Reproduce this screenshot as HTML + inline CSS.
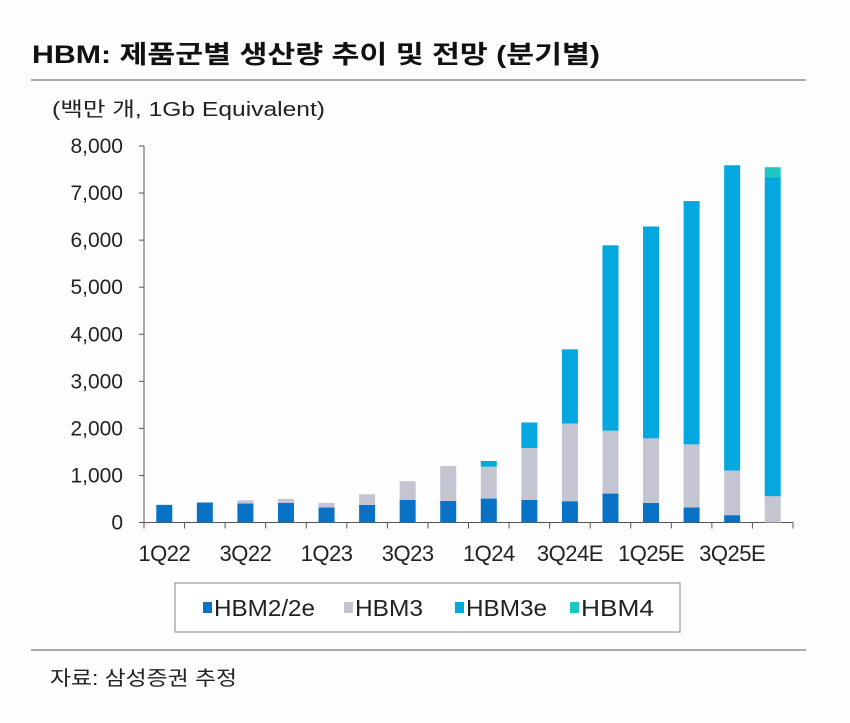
<!DOCTYPE html>
<html><head><meta charset="utf-8"><style>
body{margin:0;background:#fdfdfd;width:850px;height:718px;overflow:hidden;font-family:"Liberation Sans","Noto Sans CJK KR",sans-serif;color:#222}
svg text{font-family:"Liberation Sans","Noto Sans CJK KR",sans-serif}
</style></head><body>
<svg width="850" height="718">
<text x="32" y="63" font-size="25" font-weight="bold" fill="#111" textLength="568" lengthAdjust="spacingAndGlyphs">HBM: 제품군별 생산량 추이 및 전망 (분기별)</text>
<line x1="31" y1="80" x2="806" y2="80" stroke="#aaa" stroke-width="2"/>
<text x="52" y="116" font-size="20" fill="#222" textLength="273" lengthAdjust="spacingAndGlyphs">(백만 개, 1Gb Equivalent)</text>
<g id="axes"></g><g id="bars"></g>
<rect x="175" y="583" width="505" height="49" fill="#fff" stroke="#888" stroke-width="1"/>
<g id="legend"></g>
<line x1="31" y1="650" x2="806" y2="650" stroke="#aaa" stroke-width="2"/>
<text x="50" y="685" font-size="20" fill="#222" textLength="187" lengthAdjust="spacingAndGlyphs">자료: 삼성증권 추정</text>
</svg>
<script>
const categories=["1Q22","2Q22","3Q22","4Q22","1Q23","2Q23","3Q23","4Q23","1Q24","2Q24","3Q24E","4Q24E","1Q25E","2Q25E","3Q25E","4Q25E"];
const hbm2=[375,425,403,417,318,375,481,459,509,481,452,615,417,318,156,0];
const hbm3=[0,0,70,85,99,225,395,741,678,1101,1652,1335,1371,1342,947,558];
const hbm3e=[0,0,0,0,0,0,0,0,120,543,1576,3940,4502,5170,6487,6772];
const hbm4=[0,0,0,0,0,0,0,0,0,0,0,0,0,0,0,220];
const yTicks=[0,1000,2000,3000,4000,5000,6000,7000,8000];
const seriesNames=["HBM2/2e","HBM3","HBM3e","HBM4"];
const colors=["#0a72c4","#c5c5d1","#05a8de","#1fc6c4"];
const NS="http://www.w3.org/2000/svg";
const X0=144,X1=793,BASE=522.5,TOPY=146;
const band=(X1-X0)/categories.length;
const yPos=v=>BASE-(v/8000)*(BASE-TOPY);
const xc=i=>X0+band*(i+0.5);
function mk(t,a,p){const e=document.createElementNS(NS,t);for(const k in a)e.setAttribute(k,a[k]);p.appendChild(e);return e;}
const ax=document.getElementById('axes'),bg=document.getElementById('bars'),lg=document.getElementById('legend');
let l=mk('line',{x1:X0,y1:TOPY,x2:X0,y2:BASE,stroke:'#555','stroke-width':1},ax);


l=mk('line',{x1:X0,y1:BASE,x2:X1,y2:BASE,stroke:'#555','stroke-width':1},ax);


yTicks.forEach(v=>{
 const tk=mk('line',{x1:X0-5,y1:yPos(v),x2:X0,y2:yPos(v),stroke:'#555'},ax);
 
 
 const t=mk('text',{x:123,y:yPos(v)+7,'font-size':21,'text-anchor':'end',fill:'#222'},ax);
 t.textContent=v.toLocaleString('en-US');
 
 
});
for(let i=0;i<=categories.length;i++){
 const tk=mk('line',{x1:X0+band*i,y1:BASE,x2:X0+band*i,y2:BASE+6,stroke:'#555'},ax);
 
 
}
categories.forEach((c,i)=>{
 if(i%2===0){
  const t=mk('text',{x:xc(i),y:561,'font-size':22,'text-anchor':'middle',fill:'#222','letter-spacing':'-0.5'},ax);
  t.textContent=c;
  
  
 }
 let acc=0;
 [hbm2,hbm3,hbm3e,hbm4].forEach((s,k)=>{
  const v=s[i];if(v<=0)return;
  const r=mk('rect',{x:xc(i)-8,y:yPos(acc+v),width:16,height:yPos(acc)-yPos(acc+v),fill:colors[k]},bg);
  
  
  acc+=v;
 });
});
const lx=[203,344,455,570];
const lw=[101,68,81,73];
seriesNames.forEach((n,k)=>{
 const r=mk('rect',{x:lx[k],y:602,width:9,height:11,fill:colors[k]},lg);
 
 
 const t=mk('text',{x:lx[k]+11,y:616,'font-size':23,fill:'#222',textLength:lw[k],lengthAdjust:'spacingAndGlyphs'},lg);
 t.textContent=n;
 
 
});
</script>
</body></html>
